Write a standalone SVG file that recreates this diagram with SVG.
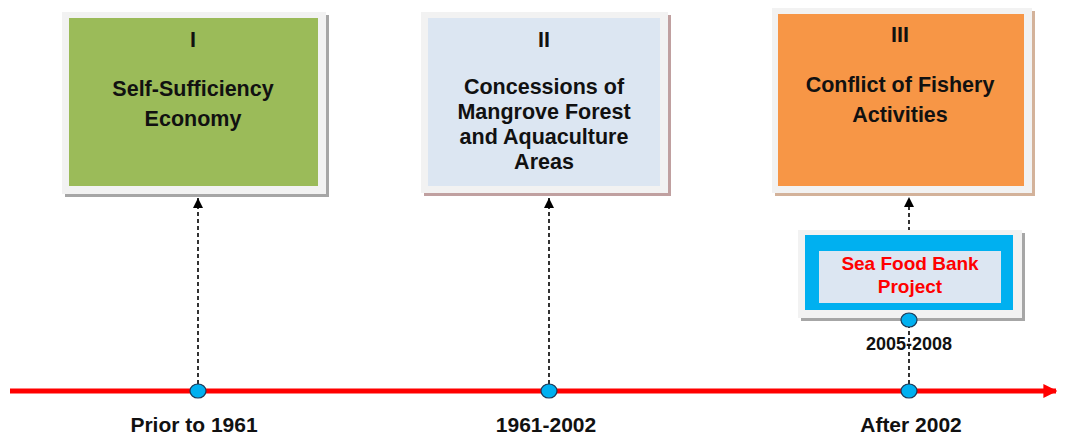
<svg xmlns="http://www.w3.org/2000/svg" width="1067" height="434" viewBox="0 0 1067 434">
<defs>
<style>
.t{font-family:"Liberation Sans",Arial,sans-serif;font-weight:bold;text-anchor:middle;fill:#111;}
.box{font-size:21.5px;}
.lbl{font-size:21px;}
.dash{stroke:#000;stroke-width:1.6;stroke-dasharray:4 3;fill:none;}
.dot{fill:#00B0F0;stroke:#1a3a5a;stroke-width:1.2;}
.frame{fill:#F2F2F2;}
</style>
<marker id="ah" viewBox="0 0 10 10" refX="10" refY="5" markerWidth="10" markerHeight="10" markerUnits="userSpaceOnUse" orient="auto">
<path d="M0,0 L10,5 L0,10 Z" fill="#000"/>
</marker>
<marker id="ra" viewBox="0 0 10 10" refX="9" refY="5" markerWidth="14" markerHeight="16" markerUnits="userSpaceOnUse" orient="auto">
<path d="M0,0 L10,5 L0,10 Z" fill="#FF0000"/>
</marker>
</defs>

<g id="connectors">
<line x1="10" y1="391" x2="1056" y2="391" stroke="#FF0000" stroke-width="5" marker-end="url(#ra)"/>
<line class="dash" x1="198" y1="384" x2="198" y2="198" marker-end="url(#ah)"/>
<line class="dash" x1="549" y1="384" x2="549" y2="198" marker-end="url(#ah)"/>
<line class="dash" x1="909" y1="384" x2="909" y2="327"/>
<line class="dash" x1="909" y1="231" x2="909" y2="197" marker-end="url(#ah)"/>
</g>

<g id="node-1">
<rect x="65" y="15" width="264" height="182" fill="#A6A6A6"/>
<rect class="frame" x="62" y="12" width="264" height="182"/>
<rect x="69" y="18" width="249" height="168" fill="#9BBB59"/>
<text class="t box" x="193" y="47">I</text>
<text class="t box" x="193" y="96">Self-Sufficiency</text>
<text class="t box" x="193" y="126">Economy</text>
</g>

<g id="node-2">
<rect x="424" y="15" width="247" height="181" fill="#C0A0A0"/>
<rect class="frame" x="421" y="12" width="247" height="181"/>
<rect x="428" y="18" width="232" height="168" fill="#DCE6F2"/>
<text class="t box" x="544" y="47">II</text>
<text class="t box" x="544" y="94">Concessions of</text>
<text class="t box" x="544" y="119">Mangrove Forest</text>
<text class="t box" x="544" y="144">and Aquaculture</text>
<text class="t box" x="544" y="169">Areas</text>
</g>

<g id="node-3">
<rect x="775" y="11" width="260" height="185" fill="#D3B29A"/>
<rect class="frame" x="772" y="8" width="260" height="185"/>
<rect x="778" y="14" width="246" height="172" fill="#F79646"/>
<text class="t box" x="900" y="42">III</text>
<text class="t box" x="900" y="92">Conflict of Fishery</text>
<text class="t box" x="900" y="122">Activities</text>
</g>

<g id="node-seafood">
<rect x="801" y="233" width="224" height="88" fill="#A6A6A6"/>
<rect class="frame" x="798" y="230" width="224" height="88"/>
<rect x="805" y="235" width="208" height="75" fill="#00B0F0"/>
<rect x="819" y="251" width="182" height="52" fill="#DCE6F2"/>
<text class="t" x="910" y="270" font-size="19" style="fill:#FF0000">Sea Food Bank</text>
<text class="t" x="910" y="293" font-size="19" style="fill:#FF0000">Project</text>
</g>

<g id="node-2005">
<ellipse class="dot" cx="909" cy="320" rx="8" ry="7"/>
<text class="t" x="909" y="350" font-size="18">2005-2008</text>
</g>

<g id="node-prior">
<ellipse class="dot" cx="198" cy="391" rx="8" ry="7"/>
<text class="t lbl" x="194" y="432">Prior to 1961</text>
</g>

<g id="node-1961">
<ellipse class="dot" cx="549" cy="391" rx="8" ry="7"/>
<text class="t lbl" x="546" y="432">1961-2002</text>
</g>

<g id="node-after">
<ellipse class="dot" cx="909" cy="391" rx="8" ry="7"/>
<text class="t lbl" x="911" y="432">After 2002</text>
</g>
</svg>
